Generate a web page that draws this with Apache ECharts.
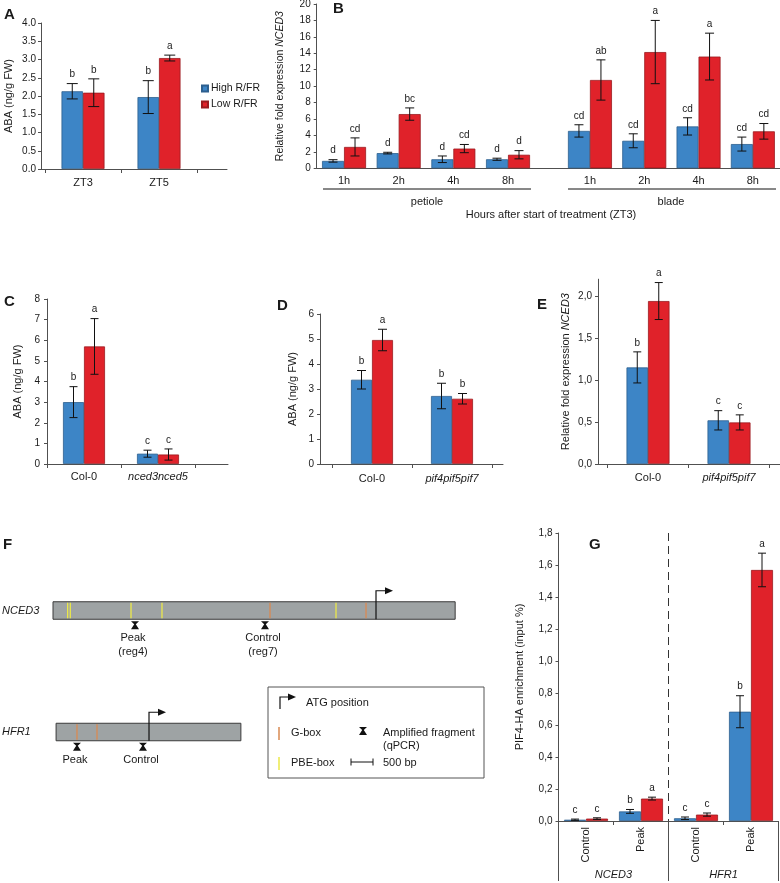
<!DOCTYPE html>
<html><head><meta charset="utf-8">
<script src="https://cdn.jsdelivr.net/npm/echarts@6/dist/echarts.min.js"></script>
<style>html,body{margin:0;padding:0;background:#fff}#c{width:780px;height:883px}</style>
</head><body><div id="c"></div>
<script>
// ---------- DATA ----------
// Panel A
const aCats = ['ZT3', 'ZT5'];
const aHigh = [2.13, 1.97];
const aHighErr = [0.21, 0.45];
const aHighLetters = ['b', 'b'];
const aLow = [2.09, 3.04];
const aLowErr = [0.38, 0.08];
const aLowLetters = ['b', 'a'];
// Panel B
const bCats = ['1h', '2h', '4h', '8h'];
const bPetioleHigh = [0.9, 1.85, 1.1, 1.1];
const bPetioleHighErr = [0.15, 0.1, 0.4, 0.13];
const bPetioleHighLetters = ['d', 'd', 'd', 'd'];
const bPetioleLow = [2.6, 6.6, 2.4, 1.65];
const bPetioleLowErr = [1.1, 0.75, 0.5, 0.5];
const bPetioleLowLetters = ['cd', 'bc', 'cd', 'd'];
const bBladeHigh = [4.55, 3.35, 5.1, 2.95];
const bBladeHighErr = [0.75, 0.85, 1.05, 0.85];
const bBladeHighLetters = ['cd', 'cd', 'cd', 'cd'];
const bBladeLow = [10.75, 14.15, 13.6, 4.5];
const bBladeLowErr = [2.45, 3.85, 2.85, 0.95];
const bBladeLowLetters = ['ab', 'a', 'a', 'cd'];
// Panel C
const cCats = ['Col-0', 'nced3nced5'];
const cHigh = [3.0, 0.5];
const cHighErr = [0.75, 0.17];
const cHighLetters = ['b', 'c'];
const cLow = [5.7, 0.46];
const cLowErr = [1.35, 0.27];
const cLowLetters = ['a', 'c'];
// Panel D
const dCats = ['Col-0', 'pif4pif5pif7'];
const dHigh = [3.37, 2.72];
const dHighErr = [0.37, 0.51];
const dHighLetters = ['b', 'b'];
const dLow = [4.96, 2.61];
const dLowErr = [0.43, 0.21];
const dLowLetters = ['a', 'b'];
// Panel E
const eCats = ['Col-0', 'pif4pif5pif7'];
const eHigh = [1.15, 0.52];
const eHighErr = [0.185, 0.115];
const eHighLetters = ['b', 'c'];
const eLow = [1.94, 0.495];
const eLowErr = [0.22, 0.09];
const eLowLetters = ['a', 'c'];
// Panel G
const gCats = ['Control', 'Peak', 'Control', 'Peak'];
const gGroups = ['NCED3', 'HFR1'];
const gHigh = [0.008, 0.06, 0.017, 0.683];
const gHighErr = [0.004, 0.012, 0.008, 0.1];
const gHighLetters = ['c', 'b', 'c', 'b'];
const gLow = [0.015, 0.14, 0.04, 1.569];
const gLowErr = [0.005, 0.009, 0.01, 0.105];
const gLowLetters = ['c', 'a', 'c', 'a'];
// Panel F (positions in bp along the drawn promoter regions)
const fGenes = ['NCED3', 'HFR1'];
const fRow = [1, 0];
const fStart = [0, 70];
const fEnd = [9140, 4270];
const fPBE = [[333, 393, 1773, 2477, 6432], []];
const fGBox = [[4932, 7114], [545, 1000]];
const fATG = [7341, 2182];
const fAmplicons = [[1864, 4818], [545, 2045]];
const fAmpliconLabels = [['Peak\n(reg4)', 'Control\n(reg7)'], ['Peak', 'Control']];
const italicNames = ['nced3nced5', 'pif4pif5pif7'];

// ---------- STYLE ----------
const FONT = '"Liberation Sans", Arial, Helvetica, sans-serif';
const AX = '#505050';
const TXT = '#1a1a1a';
const BLUE = '#3d85c6', BLUE_B = '#2d5f8e', RED = '#e0222a', RED_B = '#9a1b1f';
const YELLOW = '#ebe84a', ORANGE = '#d98a52';

const option = {
  animation: false,
  backgroundColor: '#fff',
  textStyle: { fontFamily: FONT },
  grid: [], xAxis: [], yAxis: [], series: [], graphic: [],
  legend: {
    data: ['High R/FR', 'Low R/FR'], orient: 'vertical', left: 196, top: 78,
    itemWidth: 6, itemHeight: 6, itemGap: 5, icon: 'rect',
    textStyle: { fontSize: 10.5, color: TXT, fontFamily: FONT, padding: [0, 0, 0, -2] }
  }
};
const push = (arr, o) => { arr.push(o); return arr.length - 1; };
const addGrid = g => push(option.grid, Object.assign({ outerBoundsMode: 'none', containLabel: false }, g));
const fmtDot = v => v.toFixed(1);
const fmtComma = v => v.toFixed(1).replace('.', ',');
const fmtCat = v => italicNames.indexOf(v) >= 0 ? '{i|' + v + '}' : v;

function yAxisVis(gi, max, interval, fmt, name, nameGap, margin, extra) {
  return push(option.yAxis, Object.assign({
    type: 'value', gridIndex: gi, min: 0, max: max, interval: interval,
    axisLine: { show: true, lineStyle: { color: AX, width: 1 } },
    axisTick: { show: true, length: 3, lineStyle: { color: AX } },
    splitLine: { show: false },
    axisLabel: { fontSize: 10, color: TXT, margin: margin, formatter: fmt, fontFamily: FONT },
    name: name, nameLocation: 'middle', nameGap: nameGap,
    nameTextStyle: { fontSize: 11, color: TXT, fontFamily: FONT, rich: { i: { fontStyle: 'italic', fontSize: 11, color: TXT, fontFamily: FONT } } }
  }, extra || {}));
}
function yAxisHidden(gi, max) {
  return push(option.yAxis, { type: 'value', gridIndex: gi, min: 0, max: max, show: false });
}
function xAxisFrame(gi) {
  return push(option.xAxis, { type: 'value', gridIndex: gi, min: 0, max: 1,
    axisLine: { show: true, onZero: false, lineStyle: { color: AX } }, axisTick: { show: false },
    axisLabel: { show: false }, splitLine: { show: false } });
}
function xAxisCat(gi, cats, margin, tick, fontSize, extraLabel) {
  const fs = fontSize || 11;
  return push(option.xAxis, { type: 'category', gridIndex: gi, data: cats,
    axisLine: { show: true, onZero: false, lineStyle: { color: AX } },
    axisTick: { show: tick, length: 4, lineStyle: { color: AX } },
    axisLabel: Object.assign({ interval: 0, fontSize: fs, color: TXT, margin: margin, fontFamily: FONT, formatter: fmtCat,
      rich: { i: { fontStyle: 'italic', fontSize: fs, color: TXT, fontFamily: FONT } } }, extraLabel || {}),
    splitLine: { show: false } });
}
function errSeries(xi, yi, vals, errs, letters, side, bw, cap) {
  return {
    type: 'custom', xAxisIndex: xi, yAxisIndex: yi, silent: true, z: 4,
    data: vals.map((v, i) => [i, v]),
    renderItem: function (params, api) {
      const k = params.dataIndex;
      const c = api.coord([k, vals[k]]);
      const x = c[0] + side * bw / 2;
      const top = api.coord([k, vals[k] + errs[k]])[1];
      const bot = api.coord([k, Math.max(0, vals[k] - errs[k])])[1];
      const st = { stroke: '#111', lineWidth: 1 };
      return { type: 'group', children: [
        { type: 'line', shape: { x1: x, y1: top, x2: x, y2: bot }, style: st },
        { type: 'line', shape: { x1: x - cap / 2, y1: top, x2: x + cap / 2, y2: top }, style: st },
        { type: 'line', shape: { x1: x - cap / 2, y1: bot, x2: x + cap / 2, y2: bot }, style: st },
        { type: 'text', style: { text: letters[k], x: x, y: top - 4, align: 'center', verticalAlign: 'bottom',
          textAlign: 'center', textVerticalAlign: 'bottom', fontSize: 10, fontFamily: FONT, fill: TXT } }
      ] };
    }
  };
}
function addBars(xi, yi, high, highErr, highLet, low, lowErr, lowLet, bw, cap) {
  option.series.push({ type: 'bar', name: 'High R/FR', xAxisIndex: xi, yAxisIndex: yi, data: high,
    barWidth: bw, barGap: '0%', itemStyle: { color: BLUE, borderColor: BLUE_B, borderWidth: 0.8 } });
  option.series.push({ type: 'bar', name: 'Low R/FR', xAxisIndex: xi, yAxisIndex: yi, data: low,
    barWidth: bw, barGap: '0%', itemStyle: { color: RED, borderColor: RED_B, borderWidth: 0.8 } });
  option.series.push(errSeries(xi, yi, high, highErr, highLet, -1, bw, cap));
  option.series.push(errSeries(xi, yi, low, lowErr, lowLet, 1, bw, cap));
}

// ---------- PANEL A ----------
{
  const fr = addGrid({ left: 41, top: 23, width: 186, height: 146 });
  xAxisFrame(fr);
  yAxisVis(fr, 4, 0.5, fmtDot, 'ABA (ng/g FW)', 27, 5);
  const dg = addGrid({ left: 45, top: 23, width: 152, height: 146 });
  const xi = xAxisCat(dg, aCats, 8, true, 11);
  const yi = yAxisHidden(dg, 4);
  addBars(xi, yi, aHigh, aHighErr, aHighLetters, aLow, aLowErr, aLowLetters, 21.5, 11);
}
// ---------- PANEL B ----------
{
  const pg = addGrid({ left: 316.7, top: 4, width: 273.3, height: 164.3 });
  const xp = xAxisCat(pg, bCats.concat(['']), 7, false, 11);
  const yp = yAxisVis(pg, 20, 2, null, 'Relative fold expression {i|NCED3}', 31, 6,
    { nameTextStyle: { fontSize: 10.5, color: TXT, fontFamily: FONT, rich: { i: { fontStyle: 'italic', fontSize: 10.5, color: TXT, fontFamily: FONT } } } });
  addBars(xp, yp, bPetioleHigh, bPetioleHighErr, bPetioleHighLetters, bPetioleLow, bPetioleLowErr, bPetioleLowLetters, 22, 9);
  const bg = addGrid({ left: 562.8, top: 4, width: 217.2, height: 164.3 });
  const xb = xAxisCat(bg, bCats, 7, false, 11);
  const yb = yAxisHidden(bg, 20);
  addBars(xb, yb, bBladeHigh, bBladeHighErr, bBladeHighLetters, bBladeLow, bBladeLowErr, bBladeLowLetters, 22, 9);
}
// ---------- PANEL C ----------
{
  const fr = addGrid({ left: 47, top: 299, width: 181, height: 165 });
  xAxisFrame(fr);
  yAxisVis(fr, 8, 1, null, 'ABA (ng/g FW)', 24, 7);
  const dg = addGrid({ left: 47, top: 299, width: 148, height: 165 });
  const xi = xAxisCat(dg, cCats, 7, true, 11);
  const yi = yAxisHidden(dg, 8);
  addBars(xi, yi, cHigh, cHighErr, cHighLetters, cLow, cLowErr, cLowLetters, 21, 8);
}
// ---------- PANEL D ----------
{
  const fr = addGrid({ left: 320, top: 314, width: 183, height: 150 });
  xAxisFrame(fr);
  yAxisVis(fr, 6, 1, null, 'ABA (ng/g FW)', 22, 6);
  const dg = addGrid({ left: 332, top: 314, width: 160, height: 150 });
  const xi = xAxisCat(dg, dCats, 9, true, 11);
  const yi = yAxisHidden(dg, 6);
  addBars(xi, yi, dHigh, dHighErr, dHighLetters, dLow, dLowErr, dLowLetters, 21, 9);
}
// ---------- PANEL E ----------
{
  const fr = addGrid({ left: 598, top: 279.2, width: 182, height: 184.8 });
  xAxisFrame(fr);
  yAxisVis(fr, 2.2, 0.5, fmtComma, 'Relative fold expression {i|NCED3}', 27, 6,
    { axisLabel: { fontSize: 10, color: TXT, margin: 6, formatter: fmtComma, fontFamily: FONT, showMaxLabel: false } });
  const dg = addGrid({ left: 607.5, top: 279.2, width: 162, height: 184.8 });
  const xi = xAxisCat(dg, eCats, 8, true, 11);
  const yi = yAxisHidden(dg, 2.2);
  addBars(xi, yi, eHigh, eHighErr, eHighLetters, eLow, eLowErr, eLowLetters, 21.5, 8);
}
// ---------- PANEL G ----------
{
  const gg = addGrid({ left: 558.5, top: 533, width: 220, height: 288 });
  const xi = xAxisCat(gg, gCats, 6, true, 11, { rotate: 90 });
  push(option.xAxis, { type: 'category', gridIndex: gg, data: gGroups, position: 'bottom',
    axisLine: { show: false },
    axisTick: { show: true, length: 60, lineStyle: { color: AX } },
    axisLabel: { interval: 0, margin: 48, fontSize: 11, fontStyle: 'italic', color: TXT, fontFamily: FONT },
    splitLine: { show: true, showMinLine: false, showMaxLine: false, lineStyle: { color: '#333', type: [8, 5], width: 1 } } });
  const yi = yAxisVis(gg, 1.8, 0.2, fmtComma, 'PIF4-HA enrichment (input %)', 33, 6);
  addBars(xi, yi, gHigh, gHighErr, gHighLetters, gLow, gLowErr, gLowLetters, 22, 8);
}
// ---------- PANEL F ----------
function hourglass(x, y, fill) {
  return { type: 'polygon', shape: { points: [[x - 4, y], [x + 4, y], [x + 0.8, y + 3], [x + 4, y + 8], [x - 4, y + 8], [x - 0.8, y + 3]] },
    style: { fill: fill || '#111' } };
}
{
  const fg = addGrid({ left: 53, top: 610.5, width: 440, height: 121.5 });
  const fx = push(option.xAxis, { type: 'value', gridIndex: fg, min: 0, max: 10000, show: false });
  const fy = push(option.yAxis, { type: 'value', gridIndex: fg, min: 0, max: 1, show: false });
  option.series.push({
    type: 'custom', xAxisIndex: fx, yAxisIndex: fy, silent: true,
    data: fGenes.map((g, i) => [fStart[i], fRow[i]]),
    renderItem: function (params, api) {
      const i = params.dataIndex, row = fRow[i];
      const yc = api.coord([0, row])[1];
      const h = 17.5, top = yc - h / 2, bot = yc + h / 2;
      const X = bp => api.coord([bp, row])[0];
      const ch = [];
      ch.push({ type: 'rect', shape: { x: X(fStart[i]), y: top, width: X(fEnd[i]) - X(fStart[i]), height: h },
        style: { fill: '#9ea3a4', stroke: '#3a3a3a', lineWidth: 1 } });
      fPBE[i].forEach(p => ch.push({ type: 'line', shape: { x1: X(p), y1: top + 1, x2: X(p), y2: bot - 1 }, style: { stroke: YELLOW, lineWidth: 1.3 } }));
      fGBox[i].forEach(p => ch.push({ type: 'line', shape: { x1: X(p), y1: top + 1, x2: X(p), y2: bot - 1 }, style: { stroke: ORANGE, lineWidth: 1.3 } }));
      const xa = X(fATG[i]);
      ch.push({ type: 'polyline', shape: { points: [[xa, bot], [xa, top - 11], [xa + 10, top - 11]] }, style: { stroke: '#111', lineWidth: 1.2, fill: 'none' } });
      ch.push({ type: 'polygon', shape: { points: [[xa + 9, top - 14.5], [xa + 17, top - 11], [xa + 9, top - 7.5]] }, style: { fill: '#111' } });
      fAmplicons[i].forEach((p, k) => {
        const xm = X(p);
        ch.push(hourglass(xm, bot + 2));
        ch.push({ type: 'text', style: { text: fAmpliconLabels[i][k], x: xm - 2, y: bot + 12, align: 'center', verticalAlign: 'top',
          textAlign: 'center', textVerticalAlign: 'top', fontSize: 11, lineHeight: 13.5, fontFamily: FONT, fill: TXT } });
      });
      ch.push({ type: 'text', style: { text: fGenes[i], x: X(0) - 51, y: yc, align: 'left', verticalAlign: 'middle',
        textAlign: 'left', textVerticalAlign: 'middle', fontSize: 11, fontStyle: 'italic', fontFamily: FONT, fill: TXT } });
      return { type: 'group', children: ch };
    }
  });
}

// ---------- ANNOTATIONS ----------
const T = (text, x, y, o) => Object.assign({ type: 'text', silent: true, style: Object.assign({ text: text, x: x, y: y, fill: TXT,
  fontSize: 11, fontFamily: FONT, align: 'left', verticalAlign: 'middle', textAlign: 'left', textVerticalAlign: 'middle' }, o || {}) });
const L = (x1, y1, x2, y2, o) => ({ type: 'line', silent: true, shape: { x1: x1, y1: y1, x2: x2, y2: y2 }, style: Object.assign({ stroke: '#111', lineWidth: 1 }, o || {}) });
const bold = { fontSize: 15, fontWeight: 'bold', verticalAlign: 'top', textVerticalAlign: 'top' };
option.graphic = [
  T('A', 4, 7, bold), T('B', 333, 1, bold), T('C', 4, 294, bold), T('D', 277, 298, bold),
  T('E', 537, 297, bold), T('F', 3, 537, bold), T('G', 589, 537, bold),
  // B group brackets
  L(323, 189, 531, 189), L(568, 189, 776, 189),
  T('petiole', 427, 202, { align: 'center', textAlign: 'center' }),
  T('blade', 671, 202, { align: 'center', textAlign: 'center' }),
  T('Hours after start of treatment (ZT3)', 551, 215, { align: 'center', textAlign: 'center' }),
  // F legend box
  { type: 'rect', silent: true, shape: { x: 268, y: 687, width: 216, height: 91 }, style: { fill: 'none', stroke: '#555', lineWidth: 1 } },
  { type: 'polyline', silent: true, shape: { points: [[280, 709], [280, 697], [289, 697]] }, style: { stroke: '#111', lineWidth: 1.2, fill: 'none' } },
  { type: 'polygon', silent: true, shape: { points: [[288, 693.5], [296, 697], [288, 700.5]] }, style: { fill: '#111' } },
  T('ATG position', 306, 703),
  L(279, 727, 279, 740, { stroke: ORANGE, lineWidth: 1.5 }),
  T('G-box', 291, 733),
  Object.assign(hourglass(363, 727), { silent: true }),
  T('Amplified fragment', 383, 733),
  T('(qPCR)', 383, 746),
  L(279, 757, 279, 770, { stroke: YELLOW, lineWidth: 1.5 }),
  T('PBE-box', 291, 763),
  L(351, 762, 373, 762), L(351, 758.5, 351, 765.5), L(373, 758.5, 373, 765.5),
  T('500 bp', 383, 763)
];

const chart = echarts.init(document.getElementById('c'), null, { renderer: 'canvas', width: 780, height: 883 });
chart.setOption(option);
</script>
</body></html>
